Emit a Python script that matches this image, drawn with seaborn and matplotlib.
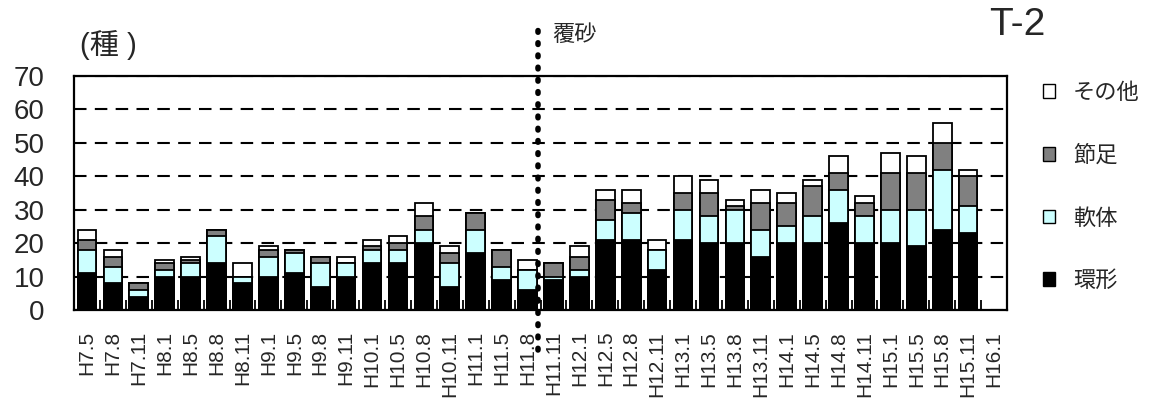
import numpy as np
import matplotlib
matplotlib.use("Agg")
import matplotlib.pyplot as plt
from matplotlib.patches import Patch
from matplotlib.ticker import FixedLocator
import seaborn as sns

# Survey dates (Heisei year.month)
dates = ["H7.5", "H7.8", "H7.11", "H8.1", "H8.5", "H8.8", "H8.11", "H9.1",
         "H9.5", "H9.8", "H9.11", "H10.1", "H10.5", "H10.8", "H10.11", "H11.1",
         "H11.5", "H11.8", "H11.11", "H12.1", "H12.5", "H12.8", "H12.11", "H13.1",
         "H13.5", "H13.8", "H13.11", "H14.1", "H14.5", "H14.8", "H14.11", "H15.1",
         "H15.5", "H15.8", "H15.11", "H16.1"]

# Number of species per taxon group
annelida = [11, 8, 4, 10, 10, 14, 8, 10, 11, 7, 10, 14, 14, 20, 7, 17, 9, 6,
            9, 10, 21, 21, 12, 21, 20, 20, 16, 20, 20, 26, 20, 20, 19, 24, 23, 0]
mollusca = [7, 5, 2, 2, 4, 8, 2, 6, 6, 7, 4, 4, 4, 4, 7, 7, 4, 6,
            1, 2, 6, 8, 6, 9, 8, 10, 8, 5, 8, 10, 8, 10, 11, 18, 8, 0]
arthropoda = [3, 3, 2, 2, 1, 2, 0, 2, 1, 2, 0, 1, 2, 4, 3, 5, 5, 0,
              4, 4, 6, 3, 0, 5, 7, 1, 8, 7, 9, 5, 4, 11, 11, 8, 9, 0]
others = [3, 2, 0, 1, 1, 0, 4, 1, 0, 0, 2, 2, 2, 4, 2, 0, 0, 3,
          0, 3, 3, 4, 3, 5, 4, 2, 4, 3, 2, 5, 2, 6, 5, 6, 2, 0]

group_names = ["環形", "軟体", "節足", "その他"]
group_colors = ["#000000", "#CCFFFF", "#808080", "#FFFFFF"]

# Position of the sand-capping marker (between H11.8 and H11.11)
capping_x = 17.4
capping_label = "覆砂"

sns.set_style("white")
plt.rcParams["font.family"] = ["Liberation Sans", "Noto Sans CJK JP", "DejaVu Sans"]

fig = plt.figure(figsize=(11.5, 4.05), dpi=100)
ax = fig.add_axes([74 / 1150, 1 - 310 / 405, 933 / 1150, 234 / 405])

# Stacked bars: draw cumulative totals from the top segment down
groups = [annelida, mollusca, arthropoda, others]
cumulative = np.cumsum(np.array(groups), axis=0)
for level in range(len(groups) - 1, -1, -1):
    sns.barplot(x=dates, y=cumulative[level], color=group_colors[level],
                saturation=1, edgecolor="black", linewidth=1.3, width=0.72,
                errorbar=None, ax=ax, zorder=3)

ax.set_xlim(-0.5, len(dates) - 0.5)
ax.set_ylim(0, 70)
ax.set_yticks(range(0, 71, 10))
ax.set_xlabel("")
ax.set_ylabel("")

ax.grid(axis="y", color="black", linestyle=(0, (6, 4)), linewidth=1.5)
ax.grid(axis="x", visible=False)
ax.set_axisbelow(True)

for side in ["left", "right", "top", "bottom"]:
    ax.spines[side].set_visible(True)
    ax.spines[side].set_color("black")
    ax.spines[side].set_linewidth(1.6)

ax.tick_params(axis="y", length=0, pad=21, labelsize=20)
ax.set_xticks(range(len(dates)))
ax.set_xticklabels(dates, rotation=90, fontsize=15)
ax.tick_params(axis="x", which="major", length=0, pad=15)
ax.xaxis.set_minor_locator(FixedLocator(np.arange(0.5, len(dates) - 1, 1.0)))
ax.tick_params(axis="x", which="minor", direction="in", length=7,
               width=1.3, color="black", bottom=True)

# Sand-capping marker line and label
trans = ax.get_xaxis_transform()
ax.plot([capping_x, capping_x], [-0.17, 1.23], transform=trans,
        color="black", linewidth=4.0, linestyle=(0, (0.3, 1.9)),
        dash_capstyle="round", clip_on=False, zorder=5)
ax.text(capping_x + 0.55, 1.175, capping_label, transform=trans,
        ha="left", va="center", fontsize=16)

# Unit label and station name
fig.text(80 / 1150, 1 - 45 / 405, "(種 )", ha="left", va="center", fontsize=21)
fig.text(1017 / 1150, 1 - 25 / 405, "T-2", ha="center", va="center", fontsize=28)

handles = [Patch(facecolor=group_colors[i], edgecolor="black", linewidth=1.0,
                 label=group_names[i]) for i in range(len(groups) - 1, -1, -1)]
fig.legend(handles=handles, loc="upper left",
           bbox_to_anchor=(1043 / 1150, 1 - 83 / 405), frameon=False,
           fontsize=16, handlelength=0.55, handleheight=0.55,
           handletextpad=0.8, labelspacing=1.87, borderpad=0, borderaxespad=0)

fig.savefig("out.png", dpi=100, facecolor="white")
